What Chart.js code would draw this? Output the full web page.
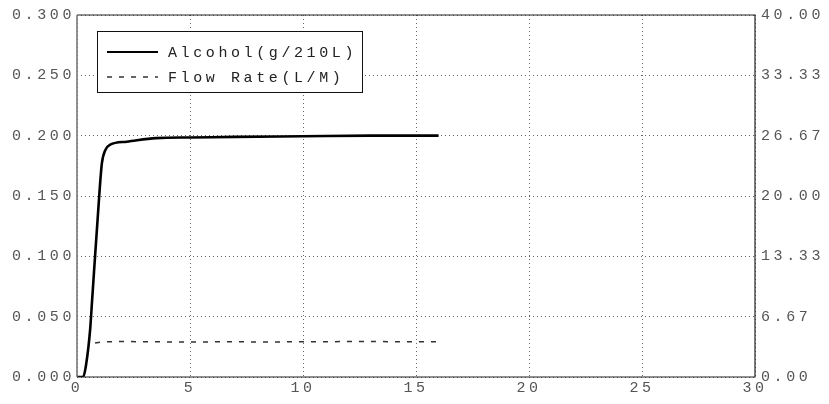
<!DOCTYPE html>
<html lang="en">
<head>
    <meta charset="UTF-8">
    <title>Alcohol / Flow Rate</title>
    <style>
        body {
            margin: 0;
            padding: 0;
            background: #fff;
        }
        #wrap {
            width: 829px;
            height: 404px;
            position: relative;
        }
    </style>
    <script src="https://cdn.jsdelivr.net/npm/chart.js"></script>
</head>
<body>
    <div id="wrap">
        <canvas id="breathChart"></canvas>
    </div>

    <script>
        // Data
        const alcoholTime = [0, 0.27, 0.4, 0.58, 0.67, 0.99, 1.1, 1.25, 1.47, 2.2, 3.5, 5, 7, 10, 13, 16];
        const alcoholValue = [0, 0, 0.01, 0.039, 0.064, 0.152, 0.177, 0.188, 0.1926, 0.195, 0.198, 0.1985, 0.199, 0.1995, 0.2, 0.2];

        const flowTime = [0.8, 1.2, 2, 3, 4, 5, 6, 7, 8, 9, 10, 11, 12, 13, 14, 15, 16];
        const flowValue = [3.75, 3.9, 3.92, 3.9, 3.88, 3.88, 3.88, 3.9, 3.87, 3.88, 3.9, 3.9, 3.92, 3.93, 3.9, 3.88, 3.9];

        const xTicks = [0, 5, 10, 15, 20, 25, 30];
        const leftTicks = [0, 0.05, 0.1, 0.15, 0.2, 0.25, 0.3];
        const rightTicks = [0, 6.67, 13.33, 20, 26.67, 33.33, 40];

        const monoFont = { family: "'Liberation Mono', 'DejaVu Sans Mono', monospace", size: 15 };
        const spacing = '3.6px';

        // wide letter spacing like the original plot font
        const spacingPlugin = {
            id: 'spacing',
            beforeDraw(chart) {
                chart.ctx.letterSpacing = spacing;
            }
        };

        // frame around the plot area
        const framePlugin = {
            id: 'frame',
            afterDatasetsDraw(chart) {
                const a = chart.chartArea;
                const ctx = chart.ctx;
                ctx.save();
                ctx.lineWidth = 1.2;
                ctx.strokeStyle = '#222';
                ctx.beginPath();
                ctx.moveTo(a.left, a.top);
                ctx.lineTo(a.right, a.top);
                ctx.lineTo(a.right, a.bottom);
                ctx.lineTo(a.left, a.bottom);
                ctx.stroke();
                ctx.strokeStyle = '#777';
                ctx.lineWidth = 1.6;
                ctx.beginPath();
                ctx.moveTo(a.left, a.top);
                ctx.lineTo(a.left, a.bottom);
                ctx.stroke();
                ctx.restore();
            }
        };

        // boxed legend in the top-left corner
        const boxLegend = {
            id: 'boxLegend',
            afterDraw(chart) {
                const ctx = chart.ctx;
                const ds = chart.data.datasets;
                ctx.save();
                ctx.letterSpacing = spacing;
                ctx.fillStyle = '#fff';
                ctx.fillRect(97, 31, 265, 61);
                ctx.strokeStyle = '#111';
                ctx.lineWidth = 1;
                ctx.strokeRect(97.5, 31.5, 265, 61);
                ctx.font = "15px 'Liberation Mono', 'DejaVu Sans Mono', monospace";
                ctx.textBaseline = 'middle';
                ds.forEach(function (d, i) {
                    const y = 52 + i * 25;
                    ctx.strokeStyle = d.borderColor;
                    ctx.lineWidth = i === 0 ? 1.8 : 1.4;
                    ctx.setLineDash(d.borderDash || []);
                    ctx.beginPath();
                    ctx.moveTo(107, y);
                    ctx.lineTo(158, y);
                    ctx.stroke();
                    ctx.setLineDash([]);
                    ctx.fillStyle = '#222';
                    ctx.fillText(d.label, 168, y + 1);
                });
                ctx.restore();
            }
        };

        function pairs(xs, ys) {
            return xs.map(function (x, i) { return { x: x, y: ys[i] }; });
        }

        new Chart(document.getElementById('breathChart'), {
            type: 'line',
            data: {
                datasets: [
                    {
                        label: 'Alcohol(g/210L)',
                        data: pairs(alcoholTime, alcoholValue),
                        borderColor: '#000',
                        borderWidth: 2.6,
                        pointRadius: 0,
                        tension: 0.3,
                        cubicInterpolationMode: 'monotone',
                        yAxisID: 'y'
                    },
                    {
                        label: 'Flow Rate(L/M)',
                        data: pairs(flowTime, flowValue),
                        borderColor: '#333',
                        borderWidth: 1.5,
                        borderDash: [5, 7],
                        pointRadius: 0,
                        tension: 0,
                        yAxisID: 'y1'
                    }
                ]
            },
            options: {
                responsive: true,
                maintainAspectRatio: false,
                animation: false,
                layout: { padding: { top: 6, left: 0, right: 0, bottom: 0 } },
                plugins: {
                    legend: { display: false },
                    tooltip: { enabled: false }
                },
                scales: {
                    x: {
                        type: 'linear',
                        min: 0,
                        max: 30,
                        afterBuildTicks(scale) {
                            scale.ticks = xTicks.map(function (v) { return { value: v }; });
                        },
                        afterFit(scale) { scale.height = 27; },
                        ticks: {
                            color: '#555',
                            font: monoFont,
                            padding: 2,
                            maxRotation: 0,
                            callback: function (v) { return String(v); }
                        },
                        grid: {
                            color: '#666',
                            lineWidth: 1,
                            drawTicks: false,
                            drawOnChartArea: true
                        },
                        border: { display: false, dash: [1, 3] }
                    },
                    y: {
                        position: 'left',
                        min: 0,
                        max: 0.3,
                        afterBuildTicks(scale) {
                            scale.ticks = leftTicks.map(function (v) { return { value: v }; });
                        },
                        afterFit(scale) { scale.width = 77; },
                        ticks: {
                            color: '#555',
                            font: monoFont,
                            padding: 2,
                            callback: function (v) { return v.toFixed(3); }
                        },
                        grid: {
                            color: '#666',
                            lineWidth: 1,
                            drawTicks: false
                        },
                        border: { display: false, dash: [1, 3] }
                    },
                    y1: {
                        position: 'right',
                        min: 0,
                        max: 40,
                        afterBuildTicks(scale) {
                            scale.ticks = rightTicks.map(function (v) { return { value: v }; });
                        },
                        afterFit(scale) { scale.width = 74; },
                        ticks: {
                            color: '#555',
                            font: monoFont,
                            padding: 6,
                            callback: function (v) { return v.toFixed(2); }
                        },
                        grid: { display: false, drawTicks: false },
                        border: { display: false }
                    }
                }
            },
            plugins: [spacingPlugin, framePlugin, boxLegend]
        });
    </script>
</body>
</html>
